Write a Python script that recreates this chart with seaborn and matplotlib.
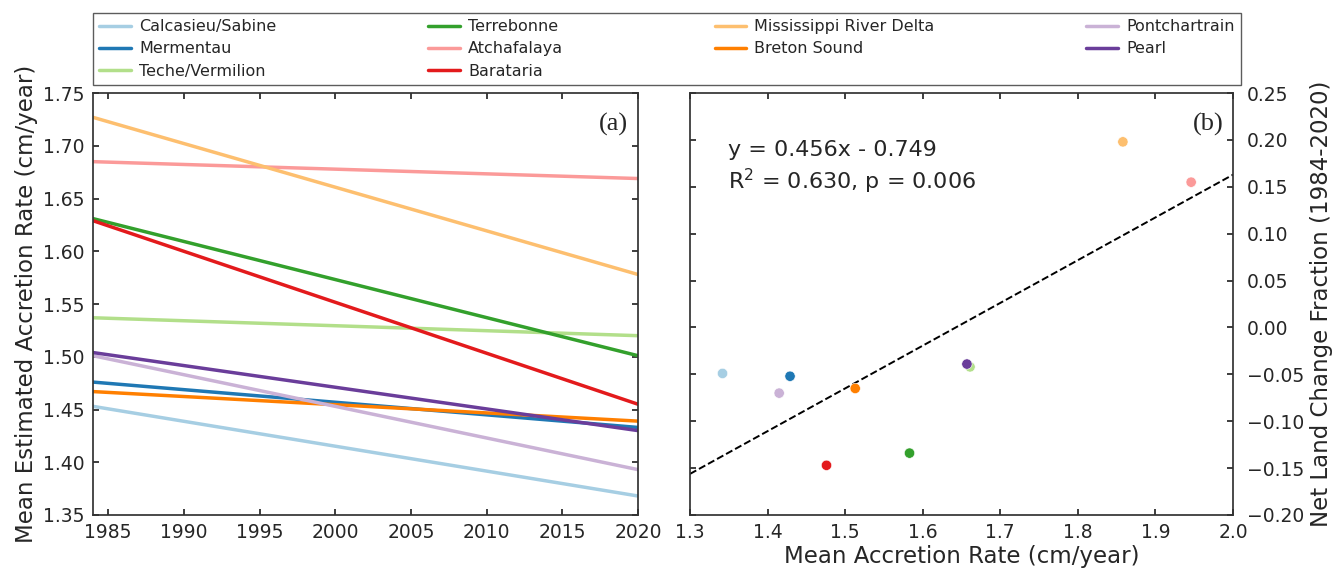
import numpy as np
import pandas as pd
import matplotlib
matplotlib.use("Agg")
import matplotlib.pyplot as plt
import seaborn as sns

# Basin names, in the order of the Paired palette used in the figure
regions = ['Calcasieu/Sabine', 'Mermentau', 'Teche/Vermilion', 'Terrebonne',
           'Atchafalaya', 'Barataria', 'Mississippi River Delta',
           'Breton Sound', 'Pontchartrain', 'Pearl']

# (a) fitted accretion-rate trend lines, value at start and end year
years = [1984, 2020]
rate_1984 = [1.453, 1.476, 1.537, 1.631, 1.685, 1.629, 1.727, 1.467, 1.501, 1.504]
rate_2020 = [1.368, 1.433, 1.520, 1.501, 1.669, 1.455, 1.578, 1.439, 1.393, 1.430]

# (b) mean accretion rate vs net land change fraction
mean_accretion = [1.342, 1.429, 1.661, 1.583, 1.946, 1.476, 1.858, 1.513, 1.415, 1.657]
net_land_change = [-0.049, -0.052, -0.042, -0.134, 0.155, -0.147, 0.198, -0.065, -0.070, -0.039]

# regression reported on the panel
slope, intercept = 0.456, -0.749
r_squared, p_value = 0.630, 0.006

palette = dict(zip(regions, sns.color_palette('Paired', len(regions))))

trend = pd.DataFrame({
    'region': np.repeat(regions, 2),
    'year': years * len(regions),
    'rate': [v for pair in zip(rate_1984, rate_2020) for v in pair],
})
scatter = pd.DataFrame({'region': regions, 'accretion': mean_accretion,
                        'land_change': net_land_change})

sns.set_theme(style='ticks')
plt.rcParams['font.family'] = ['DejaVu Sans']
plt.rcParams['axes.edgecolor'] = '#333333'
plt.rcParams['xtick.direction'] = 'in'
plt.rcParams['ytick.direction'] = 'in'

fig = plt.figure(figsize=(13.41, 5.74), dpi=100)
ax_a = fig.add_axes([0.0694, 0.1028, 0.4064, 0.735])
ax_b = fig.add_axes([0.5145, 0.1028, 0.405, 0.735])

# Panel (a)
sns.lineplot(data=trend, x='year', y='rate', hue='region', hue_order=regions,
             palette=palette, linewidth=2.5, ax=ax_a, legend=True)
ax_a.set_xlim(1984, 2020)
ax_a.set_ylim(1.35, 1.75)
ax_a.set_xticks(range(1985, 2021, 5))
ax_a.set_yticks(np.arange(1.35, 1.751, 0.05))
ax_a.set_yticklabels([f'{v:.2f}' for v in np.arange(1.35, 1.751, 0.05)])
ax_a.tick_params(axis='both', labelsize=13.5, top=True, right=True, length=4)
ax_a.tick_params(axis='y', pad=6)
ax_a.tick_params(axis='x', pad=6)
ax_a.set_xlabel('')
ax_a.set_ylabel('Mean Estimated Accretion Rate (cm/year)', fontsize=16.5, labelpad=4)
ax_a.text(0.955, 0.925, '(a)', transform=ax_a.transAxes, ha='center', va='center',
          fontsize=19, family='Liberation Serif')

handles, labels = ax_a.get_legend_handles_labels()
ax_a.get_legend().remove()
leg = fig.legend(handles, labels, loc='lower left', ncol=4, mode='expand',
                 bbox_to_anchor=(0.0694, 0.852, 0.856, 0.134), fontsize=11.5,
                 frameon=True, fancybox=False, edgecolor='#333333',
                 borderaxespad=0, handlelength=2.0, handletextpad=0.5,
                 labelspacing=0.45)
leg.get_frame().set_linewidth(1.0)

# Panel (b)
sns.scatterplot(data=scatter, x='accretion', y='land_change', hue='region',
                hue_order=regions, palette=palette, s=55, edgecolor='white',
                linewidth=0.4, ax=ax_b, legend=False, zorder=3)
ax_b.axline((0, intercept), slope=slope, color='black', linestyle='--',
            linewidth=1.4, zorder=2)
ax_b.set_xlim(1.3, 2.0)
ax_b.set_ylim(-0.20, 0.25)
ax_b.set_xticks(np.arange(1.3, 2.01, 0.1))
ax_b.set_xticklabels([f'{v:.1f}' for v in np.arange(1.3, 2.01, 0.1)])
ax_b.set_yticks(np.arange(-0.20, 0.251, 0.05))
ax_b.set_yticklabels([f'{v:.2f}'.replace('-', '\u2212') if abs(v) > 1e-9 else '0.00'
                      for v in np.arange(-0.20, 0.251, 0.05)])
ax_b.yaxis.tick_right()
ax_b.yaxis.set_label_position('right')
ax_b.tick_params(axis='both', labelsize=13.5, top=True, left=True, right=True, length=4)
ax_b.tick_params(axis='y', pad=10)
ax_b.tick_params(axis='x', pad=6)
ax_b.set_xlabel('Mean Accretion Rate (cm/year)', fontsize=16.5, labelpad=2)
ax_b.set_ylabel('Net Land Change Fraction (1984-2020)', fontsize=16.5, labelpad=4)
ax_b.text(0.07, 0.865, f'y = {slope:.3f}x - {abs(intercept):.3f}',
          transform=ax_b.transAxes, fontsize=16, va='center')
ax_b.text(0.07, 0.79, f'R$^2$ = {r_squared:.3f}, p = {p_value:.3f}',
          transform=ax_b.transAxes, fontsize=16, va='center')
ax_b.text(0.955, 0.925, '(b)', transform=ax_b.transAxes, ha='center', va='center',
          fontsize=19, family='Liberation Serif')

fig.savefig('out.png', dpi=100)
